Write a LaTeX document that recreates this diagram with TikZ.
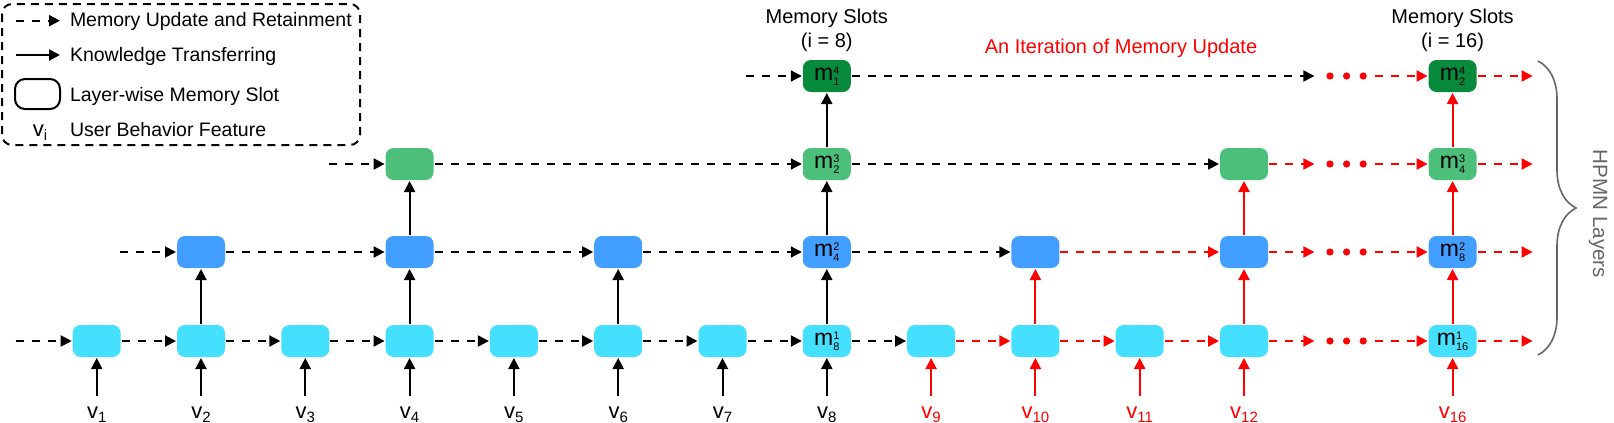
\documentclass[tikz,border=0pt]{standalone}
\usepackage{fontspec}
\setmainfont{Liberation Sans}
\usetikzlibrary{arrows.meta,positioning,calc,decorations.pathreplacing}
\definecolor{layerA}{HTML}{45E0FF}
\definecolor{layerB}{HTML}{429EFF}
\definecolor{layerC}{HTML}{4CC07A}
\definecolor{layerD}{HTML}{078A3C}
\definecolor{bracegray}{HTML}{666666}
\newcommand{\mslot}[2]{m\makebox[0pt][l]{\raisebox{3.4pt}{\fontsize{5.5}{6}\selectfont #1}}\raisebox{-2.3pt}{\fontsize{5.5}{6}\selectfont #2}}
\newcommand{\vfeat}[1]{{\fontsize{11}{12}\selectfont v}\raisebox{-1.7pt}{\fontsize{7.5}{8}\selectfont #1}}

\begin{document}
\begin{tikzpicture}[x=0.5pt, y=-0.5pt, font=\fontsize{10}{12}\selectfont, line width=1pt]
  \tikzset{
    slot/.style={fill=#1, rounded corners=4pt, minimum width=24pt, minimum height=16pt, inner sep=0pt, font=\fontsize{11.5}{12}\selectfont},
    upd/.style={dash pattern=on 4pt off 4pt, -{Triangle[length=5.5pt,width=5.5pt]}},
    know/.style={-{Triangle[length=5.5pt,width=5.5pt]}},
    feat/.style={inner sep=5pt},
    rdot/.style={circle, fill=red, inner sep=0pt, minimum size=3.6pt},
    legtxt/.style={anchor=base west, inner sep=0pt, font=\fontsize{9.75}{11}\selectfont},
    slottitle/.style={inner sep=0pt, align=center},
  }
  \useasboundingbox (0,0) rectangle (1614,423);

  % memory slots, layer by layer
  \foreach \ly/\y/\lc/\pa/\pb/\cols in {1/341/layerA/8/16/{1,...,12,16}, 2/252/layerB/4/8/{2,4,...,12,16}, 3/164/layerC/2/4/{4,8,12,16}, 4/76/layerD/1/2/{8,16}}
    \foreach \i in \cols {
      \pgfmathsetmacro\x{96.7+104.3*(\i-1-2*(\i>12))}
      \node[slot=\lc] (L\ly-\i) at (\x,\y) {\ifnum\i=8 \mslot{\ly}{\pa}\fi\ifnum\i=16 \mslot{\ly}{\pb}\fi};
    }

  % update and retainment along each layer
  \foreach \ly/\st/\cols/\lim in {1/1/{2,...,12}/9, 2/2/{4,6,...,12}/10, 3/4/{8,12}/12}
    \foreach \i in \cols {
      \pgfmathtruncatemacro\p{\i-\st}
      \ifnum\i>\lim \def\hc{red}\else\def\hc{black}\fi
      \draw[upd,\hc] (L\ly-\p) -- (L\ly-\i);
    }
  \foreach \ly/\i in {1/1, 2/2, 3/4, 4/8} {
    \coordinate (in\ly) at ([xshift=-28pt]L\ly-\i.west);
    \draw[upd] (in\ly) -- (L\ly-\i);
  }
  \foreach \ly/\from/\hc in {1/12/red, 2/12/red, 3/12/red, 4/8/black} {
    \coordinate (ga\ly) at ([xshift=-56.6pt]L\ly-16.west);
    \coordinate (gb\ly) at ([xshift=-26.3pt]L\ly-16.west);
    \draw[upd,\hc] (L\ly-\from) -- (ga\ly);
    \foreach \k/\d in {1/48.8, 2/40.5, 3/32.2}
      \node[rdot] (dt\ly-\k) at ([xshift=-\d pt]L\ly-16.west) {};
    \draw[upd,red] (gb\ly) -- (L\ly-16);
    \coordinate (out\ly) at ([xshift=27.5pt]L\ly-16.east);
    \draw[upd,red] (L\ly-16) -- (out\ly);
  }

  % knowledge transferring between layers
  \foreach \ly/\cols in {1/{2,4,6,8,10,12,16}, 2/{4,8,12,16}, 3/{8,16}}
    \foreach \i in \cols {
      \pgfmathtruncatemacro\up{\ly+1}
      \ifnum\i>8 \def\vc{red}\else\def\vc{black}\fi
      \draw[know,\vc] (L\ly-\i) -- (L\up-\i);
    }

  % user behavior features
  \foreach \i in {1,...,12,16} {
    \ifnum\i>8 \def\vc{red}\else\def\vc{black}\fi
    \node[feat,\vc,below=19pt of L1-\i] (v\i) {\vfeat{\i}};
    \draw[know,\vc] (v\i) -- (L1-\i);
  }

  % titles
  \node[slottitle, above=3pt of L4-8] (s8) {Memory Slots\\(i = 8)};
  \node[slottitle, above=3pt of L4-16] (s16) {Memory Slots\\(i = 16)};
  \node[red, anchor=base] (iter) at (1121,53.3) {An Iteration of Memory Update};

  % layers brace
  \coordinate (br1) at (1538,61);
  \coordinate (br2) at (1538,355);
  \draw[bracegray, line width=0.8pt, decorate, decoration={brace, amplitude=19pt}] (br1) -- (br2);
  \node[bracegray, rotate=-90, font=\fontsize{10.3}{12}\selectfont] (hpmn) at (1598,214) {HPMN Layers};

  % legend
  \draw[dash pattern=on 4pt off 3pt, rounded corners=5pt] (2,4) rectangle (360,145);
  \coordinate (k1a) at (16,20.7);
  \coordinate (k1b) at (60,20.7);
  \draw[upd] (k1a) -- (k1b);
  \coordinate (k2a) at (16,55);
  \coordinate (k2b) at (60,55);
  \draw[know] (k2a) -- (k2b);
  \node[draw, rounded corners=5pt, minimum width=22.5pt, minimum height=15pt, inner sep=0pt] (k3) at (37.5,94) {};
  \node[anchor=base, inner sep=0pt] (k4) at (40,136.7) {\vfeat{i}};
  \node[legtxt] (t1) at (69,26.7) {Memory Update and Retainment};
  \node[legtxt] (t2) at (69,61.7) {Knowledge Transferring};
  \node[legtxt] (t3) at (69,101) {Layer-wise Memory Slot};
  \node[legtxt] (t4) at (69,136.7) {User Behavior Feature};
\end{tikzpicture}
\end{document}
